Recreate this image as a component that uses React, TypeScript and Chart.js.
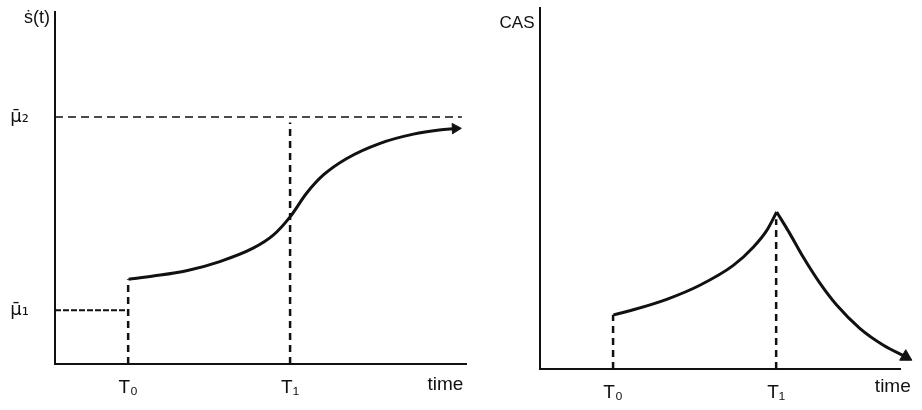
import React, { useEffect, useRef } from "react";
import { Chart, registerables } from "chart.js";

Chart.register(...registerables);

// ---------- Left panel: s-dot(t) ----------
const leftXTicks = [17.8, 57.2];
const leftXTickLabels = ["T₀", "T₁"];
const leftYTicks = [15.3, 70.2];
const leftYTickLabels = ["μ̄₁", "μ̄₂"];
const leftBaseX = [0, 17.8];
const leftBaseY = [15.3, 15.3];
const leftCurveX = [17.9, 23.9, 32.0, 40.1, 48.2, 53.1, 57.2, 61.2, 65.3, 71.0, 79.1, 87.2, 93.5, 97.4];
const leftCurveY = [24.1, 25.0, 26.5, 29.1, 32.9, 36.6, 41.8, 48.5, 53.7, 58.4, 62.7, 65.3, 66.5, 66.9];
const leftT0LineY = [0, 24.1];
const leftT1LineY = [0, 68.6];
const leftMu2LineX = [0, 99];

// ---------- Right panel: CAS ----------
const rightXTicks = [20.3, 65.6];
const rightXTickLabels = ["T₀", "T₁"];
const rightRiseX = [20.4, 25.9, 35.2, 44.4, 53.7, 59.3, 63.0, 65.75];
const rightRiseY = [15.0, 16.4, 19.3, 23.2, 28.7, 33.8, 38.4, 43.5];
const rightFallX = [65.75, 69.4, 73.1, 77.8, 82.4, 88.9, 95.4, 101.6];
const rightFallY = [43.5, 37.5, 31.0, 23.7, 17.7, 11.2, 6.6, 3.4];
const rightT0LineY = [0, 15.0];
const rightT1LineY = [0, 41.5];

const INK = "#111";
const FONT = "'Liberation Sans', Arial, sans-serif";
const GREEK_FONT = "'DejaVu Sans', sans-serif";

const pts = (xs: number[], ys: number[]) => xs.map((x, i) => ({ x, y: ys[i] }));

function lineDs(data: any[], opts: any = {}) {
  return {
    data,
    showLine: true,
    borderColor: INK,
    backgroundColor: INK,
    borderWidth: 2,
    pointRadius: 0,
    pointHoverRadius: 0,
    fill: false,
    tension: 0,
    ...opts,
  };
}

function arrowDs(p: { x: number; y: number }, rotation: number, radius: number) {
  return {
    data: [p],
    showLine: false,
    pointStyle: "triangle",
    pointRotation: rotation,
    pointRadius: radius,
    pointBorderWidth: 1,
    borderColor: INK,
    backgroundColor: INK,
    pointBackgroundColor: INK,
    clip: false,
  };
}

function textPlugin(items: (c: any) => { text: string; x: number; y: number; size: number; align?: CanvasTextAlign }[]) {
  return {
    id: "texts",
    afterDraw(chart: any) {
      const ctx = chart.ctx;
      ctx.save();
      ctx.fillStyle = INK;
      ctx.textBaseline = "middle";
      for (const it of items(chart)) {
        ctx.font = `${it.size}px ${FONT}`;
        ctx.textAlign = it.align || "center";
        ctx.fillText(it.text, it.x, it.y);
      }
      ctx.restore();
    },
  };
}

function axisCommon() {
  return {
    grid: { display: false },
    border: { display: true, color: INK, width: 2 },
  };
}

function noPad(s: any) {
  s.paddingTop = 0;
  s.paddingBottom = 0;
  s.paddingLeft = 0;
  s.paddingRight = 0;
}

function makeLeft(canvas: HTMLCanvasElement) {
  const curve = pts(leftCurveX, leftCurveY);
  return new Chart(canvas, {
    type: "line",
    data: {
      datasets: [
        lineDs(pts(leftBaseX, leftBaseY), { borderDash: [6, 2], borderWidth: 2 }),
        lineDs([{ x: leftBaseX[1], y: leftT0LineY[0] }, { x: leftBaseX[1], y: leftT0LineY[1] }], { borderDash: [7, 5], borderWidth: 2.5 }),
        lineDs([{ x: leftXTicks[1], y: leftT1LineY[0] }, { x: leftXTicks[1], y: leftT1LineY[1] }], { borderDash: [7, 5], borderWidth: 2.5 }),
        lineDs([{ x: leftMu2LineX[0], y: leftYTicks[1] }, { x: leftMu2LineX[1], y: leftYTicks[1] }], { borderDash: [8, 5], borderWidth: 1.5 }),
        lineDs(curve, { borderWidth: 3, cubicInterpolationMode: "monotone", clip: false }),
        arrowDs(curve[curve.length - 1], 88, 6),
      ],
    },
    options: {
      responsive: false,
      animation: false,
      events: [],
      layout: { padding: { left: 0, top: 12, right: 14, bottom: 0 } },
      plugins: { legend: { display: false }, tooltip: { enabled: false } },
      scales: {
        x: {
          type: "linear",
          min: 0,
          max: 100,
          ...axisCommon(),
          afterBuildTicks: (s: any) => { s.ticks = leftXTicks.map((v) => ({ value: v })); },
          afterFit: (s: any) => { s.height = 46; noPad(s); },
          ticks: {
            color: INK,
            padding: 4,
            font: { family: FONT, size: 19 },
            maxRotation: 0,
            autoSkip: false,
            callback: (_v: any, i: number) => leftXTickLabels[i],
          },
        },
        y: {
          type: "linear",
          min: 0,
          max: 100,
          ...axisCommon(),
          afterBuildTicks: (s: any) => { s.ticks = leftYTicks.map((v) => ({ value: v })); },
          afterFit: (s: any) => { s.width = 55; noPad(s); },
          ticks: {
            color: INK,
            padding: 18,
            font: { family: GREEK_FONT, size: 18 },
            autoSkip: false,
            callback: (_v: any, i: number) => leftYTickLabels[i],
          },
        },
      },
    },
    plugins: [
      textPlugin((c) => [
        { text: "ṡ(t)", x: c.chartArea.left - 18, y: c.chartArea.top + 6, size: 18 },
        { text: "time", x: c.scales.x.getPixelForValue(95), y: c.chartArea.bottom + 21, size: 19 },
      ]),
    ],
  } as any);
}

function makeRight(canvas: HTMLCanvasElement) {
  const fall = pts(rightFallX, rightFallY);
  return new Chart(canvas, {
    type: "line",
    data: {
      datasets: [
        lineDs([{ x: rightXTicks[0], y: rightT0LineY[0] }, { x: rightXTicks[0], y: rightT0LineY[1] }], { borderDash: [7, 5], borderWidth: 2.5 }),
        lineDs([{ x: rightXTicks[1], y: rightT1LineY[0] }, { x: rightXTicks[1], y: rightT1LineY[1] }], { borderDash: [7, 5], borderWidth: 2.5 }),
        lineDs(pts(rightRiseX, rightRiseY), { borderWidth: 3, cubicInterpolationMode: "monotone" }),
        lineDs(fall, { borderWidth: 3, cubicInterpolationMode: "monotone", clip: false }),
        arrowDs(fall[fall.length - 1], 120, 7),
      ],
    },
    options: {
      responsive: false,
      animation: false,
      events: [],
      layout: { padding: { left: 0, top: 7, right: 22, bottom: 0 } },
      plugins: { legend: { display: false }, tooltip: { enabled: false } },
      scales: {
        x: {
          type: "linear",
          min: 0,
          max: 100,
          ...axisCommon(),
          afterBuildTicks: (s: any) => { s.ticks = rightXTicks.map((v) => ({ value: v })); },
          afterFit: (s: any) => { s.height = 41; noPad(s); },
          ticks: {
            color: INK,
            padding: 4,
            font: { family: FONT, size: 19 },
            maxRotation: 0,
            autoSkip: false,
            callback: (_v: any, i: number) => rightXTickLabels[i],
          },
        },
        y: {
          type: "linear",
          min: 0,
          max: 100,
          ...axisCommon(),
          ticks: { display: false },
          afterFit: (s: any) => { s.width = 60; noPad(s); },
        },
      },
    },
    plugins: [
      textPlugin((c) => [
        { text: "CAS", x: c.chartArea.left - 23, y: c.chartArea.top + 15, size: 17 },
        { text: "time", x: c.scales.x.getPixelForValue(98), y: c.chartArea.bottom + 18, size: 19 },
      ]),
    ],
  } as any);
}

export default function App() {
  const leftRef = useRef<HTMLCanvasElement>(null);
  const rightRef = useRef<HTMLCanvasElement>(null);

  useEffect(() => {
    const a = makeLeft(leftRef.current!);
    const b = makeRight(rightRef.current!);
    return () => {
      a.destroy();
      b.destroy();
    };
  }, []);

  return (
    <div style={{ position: "absolute", left: 0, top: 0, width: 922, height: 410, background: "#fff" }}>
      <canvas ref={leftRef} width={480} height={410} style={{ position: "absolute", left: 0, top: 0, width: 480, height: 410 }} />
      <canvas ref={rightRef} width={442} height={410} style={{ position: "absolute", left: 480, top: 0, width: 442, height: 410 }} />
    </div>
  );
}
